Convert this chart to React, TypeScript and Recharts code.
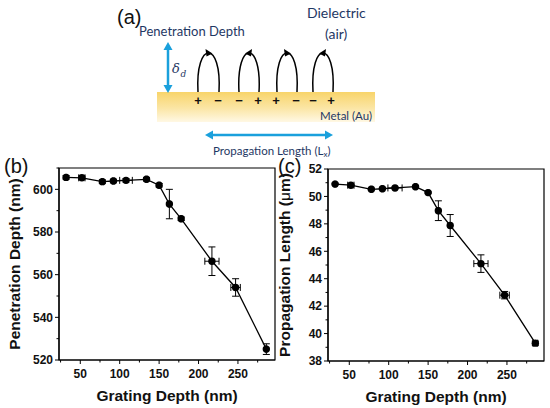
import React from 'react';
import { ComposedChart, Scatter, XAxis, YAxis, ErrorBar, ReferenceArea } from 'recharts';

const gratingDepth = [32, 52, 78, 92, 108, 134, 150, 163, 178, 217, 247, 286];

const penetrationDepth = [605.6, 605.4, 603.6, 603.9, 604.2, 604.7, 601.9, 593.1, 586.2, 566.3, 554.0, 525.1];
const penetrationYErr = [0.8, 0.8, 0.8, 0.8, 0.8, 0.8, 0.8, 6.9, 0.8, 6.7, 4.1, 2.5];
const penetrationXErr = [1, 4, 1, 1, 8, 1, 1, 1, 1, 9, 6, 1];

const propagationLength = [50.9, 50.82, 50.52, 50.56, 50.62, 50.71, 50.28, 48.96, 47.88, 45.1, 42.8, 39.3];
const propagationYErr = [0.05, 0.05, 0.05, 0.05, 0.05, 0.05, 0.05, 0.72, 0.8, 0.64, 0.27, 0.15];
const propagationXErr = [1, 4, 1, 1, 9, 1, 1, 1, 1, 9, 6, 3];

const xMajorTicks = [50, 100, 150, 200, 250];
const xAllTicks = [25, 50, 75, 100, 125, 150, 175, 200, 225, 250, 275];
const penMajorTicks = [520, 540, 560, 580, 600];
const penAllTicks = [520, 530, 540, 550, 560, 570, 580, 590, 600, 610];
const propMajorTicks = [38, 40, 42, 44, 46, 48, 50, 52];
const propAllTicks = [38, 39, 40, 41, 42, 43, 44, 45, 46, 47, 48, 49, 50, 51, 52];

const penRows = gratingDepth.map((x, i) => ({ x, y: penetrationDepth[i], ey: penetrationYErr[i], ex: penetrationXErr[i] }));
const propRows = gratingDepth.map((x, i) => ({ x, y: propagationLength[i], ey: propagationYErr[i], ex: propagationXErr[i] }));

const FONT = '"Liberation Sans", Arial, sans-serif';
const NAVY = '#1f3864';
const BLUE = '#1aa0dc';

const makeXTick = (majors: number[]) => (props: any) => {
  const { x, y, payload } = props;
  const major = majors.includes(payload.value);
  return (
    <g>
      <line x1={x} x2={x} y1={y} y2={y + (major ? 4 : 2.5)} stroke="#000" strokeWidth={1} />
      {major && (
        <text x={x} y={y + 18} textAnchor="middle" fontFamily={FONT} fontWeight="bold" fontSize={12} fill="#111">
          {payload.value}
        </text>
      )}
    </g>
  );
};

const makeYTick = (majors: number[]) => (props: any) => {
  const { x, y, payload } = props;
  const major = majors.includes(payload.value);
  return (
    <g>
      <line x1={x} x2={x - (major ? 4 : 2.5)} y1={y} y2={y} stroke="#000" strokeWidth={1} />
      {major && (
        <text x={x - 6} y={y + 4.3} textAnchor="end" fontFamily={FONT} fontWeight="bold" fontSize={12} fill="#111">
          {payload.value}
        </text>
      )}
    </g>
  );
};

const dot = (p: any) => <circle cx={p.cx} cy={p.cy} r={3.7} fill="#000" />;

type PanelProps = {
  rows: any[];
  yDomain: [number, number];
  yAll: number[];
  yMajor: number[];
  yTitle: React.ReactNode;
  marginTop: number;
  marginRight: number;
  yAxisWidth: number;
  xAxisHeight: number;
  titleX: number;
};

const Panel = ({ rows, yDomain, yAll, yMajor, yTitle, marginTop, marginRight, yAxisWidth, xAxisHeight, titleX }: PanelProps) => (
  <ComposedChart width={280} height={258} data={rows} margin={{ top: marginTop, right: marginRight, bottom: 0, left: 0 }}>
    <XAxis
      dataKey="x"
      type="number"
      domain={[23, 297]}
      ticks={xAllTicks}
      interval={0}
      tickSize={0}
      tickMargin={0}
      tickLine={false}
      tick={makeXTick(xMajorTicks)}
      axisLine={{ stroke: '#000', strokeWidth: 1.2 }}
      height={xAxisHeight}
      allowDataOverflow
      label={{
        content: (lp: any) => {
          const vb = lp.viewBox;
          return (
            <text x={vb.x + vb.width / 2} y={vb.y + 41} textAnchor="middle" fontFamily={FONT} fontWeight="bold" fontSize={15.5} fill="#111">
              Grating Depth (nm)
            </text>
          );
        },
      }}
    />
    <YAxis
      dataKey="y"
      type="number"
      domain={yDomain}
      ticks={yAll}
      interval={0}
      tickSize={0}
      tickMargin={0}
      tickLine={false}
      tick={makeYTick(yMajor)}
      axisLine={{ stroke: '#000', strokeWidth: 1.2 }}
      width={yAxisWidth}
      allowDataOverflow
      label={{
        content: (lp: any) => {
          const vb = lp.viewBox;
          const cy = vb.y + vb.height / 2;
          return (
            <text transform={`translate(${titleX}, ${cy}) rotate(-90)`} textAnchor="middle" fontFamily={FONT} fontWeight="bold" fontSize={15.5} fill="#111">
              {yTitle}
            </text>
          );
        },
      }}
    />
    <ReferenceArea x1={23} x2={297} y1={yDomain[0]} y2={yDomain[1]} fill="none" stroke="#000" strokeWidth={1.2} fillOpacity={0} />
    <Scatter dataKey="y" isAnimationActive={false} line={{ stroke: '#000', strokeWidth: 1.3 }} lineType="joint" shape={dot}>
      <ErrorBar dataKey="ey" direction="y" width={3.5} stroke="#000" strokeWidth={1} isAnimationActive={false} />
      <ErrorBar dataKey="ex" direction="x" width={3.5} stroke="#000" strokeWidth={1} isAnimationActive={false} />
    </Scatter>
  </ComposedChart>
);

const ArcLoop = ({ x1, x2, dir }: { x1: number; x2: number; dir: number }) => {
  const cx = (x1 + x2) / 2;
  const top = 52;
  return (
    <g>
      <path d={`M ${x1} 92 C ${x1 - 3} 40, ${x2 + 3} 40, ${x2} 92`} fill="none" stroke="#000" strokeWidth={1.5} />
      <polygon
        points={`${cx + dir * 4},${top + 1.5} ${cx - dir * 3},${top - 3} ${cx - dir * 2},${top + 4.5}`}
        fill="#000"
      />
    </g>
  );
};

const Diagram = () => (
  <svg width={550} height={160} style={{ position: 'absolute', left: 0, top: 0 }}>
    <defs>
      <linearGradient id="gold" x1="0" y1="0" x2="0" y2="1">
        <stop offset="0%" stopColor="#f8d46a" />
        <stop offset="55%" stopColor="#fbe6a6" />
        <stop offset="100%" stopColor="#fff8e4" />
      </linearGradient>
    </defs>
    <text x={117} y={24} fontFamily={FONT} fontSize={20} fill="#111">(a)</text>
    <text x={139} y={36} fontFamily="Lato, 'Open Sans', sans-serif" fontSize={13} fill={NAVY}>Penetration Depth</text>
    <text x={307} y={18} fontFamily="Lato, 'Open Sans', sans-serif" fontSize={14} fill={NAVY}>Dielectric</text>
    <text x={325} y={39} fontFamily="Lato, 'Open Sans', sans-serif" fontSize={14} fill={NAVY}>(air)</text>
    <rect x={157} y={92} width={218} height={30} fill="url(#gold)" />
    <line x1={168} y1={48} x2={168} y2={87} stroke={BLUE} strokeWidth={2.5} />
    <polygon points="168,42 163.5,50 172.5,50" fill={BLUE} />
    <polygon points="168,93 163.5,85 172.5,85" fill={BLUE} />
    <text x={172} y={73} fontFamily="'DejaVu Serif', serif" fontStyle="italic" fontSize={13} fill={NAVY}>δ</text>
    <text x={180.5} y={77} fontFamily="'DejaVu Serif', serif" fontStyle="italic" fontSize={9} fill={NAVY}>d</text>
    <ArcLoop x1={198} x2={219} dir={1} />
    <ArcLoop x1={239} x2={259} dir={-1} />
    <ArcLoop x1={277} x2={297} dir={1} />
    <ArcLoop x1={313} x2={333} dir={-1} />
    {[
      ['+', 198], ['−', 218], ['−', 239], ['+', 258], ['+', 276], ['−', 296], ['−', 313], ['+', 331],
    ].map(([s, x], i) => (
      <text key={i} x={x as number} y={105} textAnchor="middle" fontFamily={FONT} fontWeight="bold" fontSize={13} fill="#111">
        {s}
      </text>
    ))}
    <text x={320} y={120} fontFamily="Lato, 'Open Sans', sans-serif" fontSize={11.5} fill={NAVY}>Metal (Au)</text>
    <line x1={212} y1={135} x2={326} y2={135} stroke={BLUE} strokeWidth={2.5} />
    <polygon points="205,135 213,130.5 213,139.5" fill={BLUE} />
    <polygon points="333,135 325,130.5 325,139.5" fill={BLUE} />
    <text x={213} y={155} fontFamily="Lato, 'Open Sans', sans-serif" fontSize={11.5} fill={NAVY}>
      Propagation Length (L<tspan fontSize={8} dy={2}>x</tspan><tspan dy={-2}>)</tspan>
    </text>
  </svg>
);

export default function App() {
  return (
    <div style={{ position: 'absolute', left: 0, top: 0, width: 550, height: 408, background: '#fff', fontFamily: FONT }}>
      <Diagram />
      <div style={{ position: 'absolute', left: 4, top: 155, fontFamily: FONT, fontSize: 20, color: '#111', lineHeight: '22px' }}>(b)</div>
      <div style={{ position: 'absolute', left: 278, top: 155, fontFamily: FONT, fontSize: 20, color: '#111', lineHeight: '22px' }}>(c)</div>
      <div style={{ position: 'absolute', left: 0, top: 150 }}>
        <Panel
          rows={penRows}
          yDomain={[520, 610]}
          yAll={penAllTicks}
          yMajor={penMajorTicks}
          yTitle="Penetration Depth (nm)"
          marginTop={18}
          marginRight={5}
          yAxisWidth={59}
          xAxisHeight={48}
          titleX={20}
        />
      </div>
      <div style={{ position: 'absolute', left: 270, top: 150 }}>
        <Panel
          rows={propRows}
          yDomain={[38, 52]}
          yAll={propAllTicks}
          yMajor={propMajorTicks}
          yTitle={<>Propagation Length (<tspan fontWeight="normal">μ</tspan>m)</>}
          marginTop={19}
          marginRight={6}
          yAxisWidth={58}
          xAxisHeight={47}
          titleX={20}
        />
      </div>
    </div>
  );
}
